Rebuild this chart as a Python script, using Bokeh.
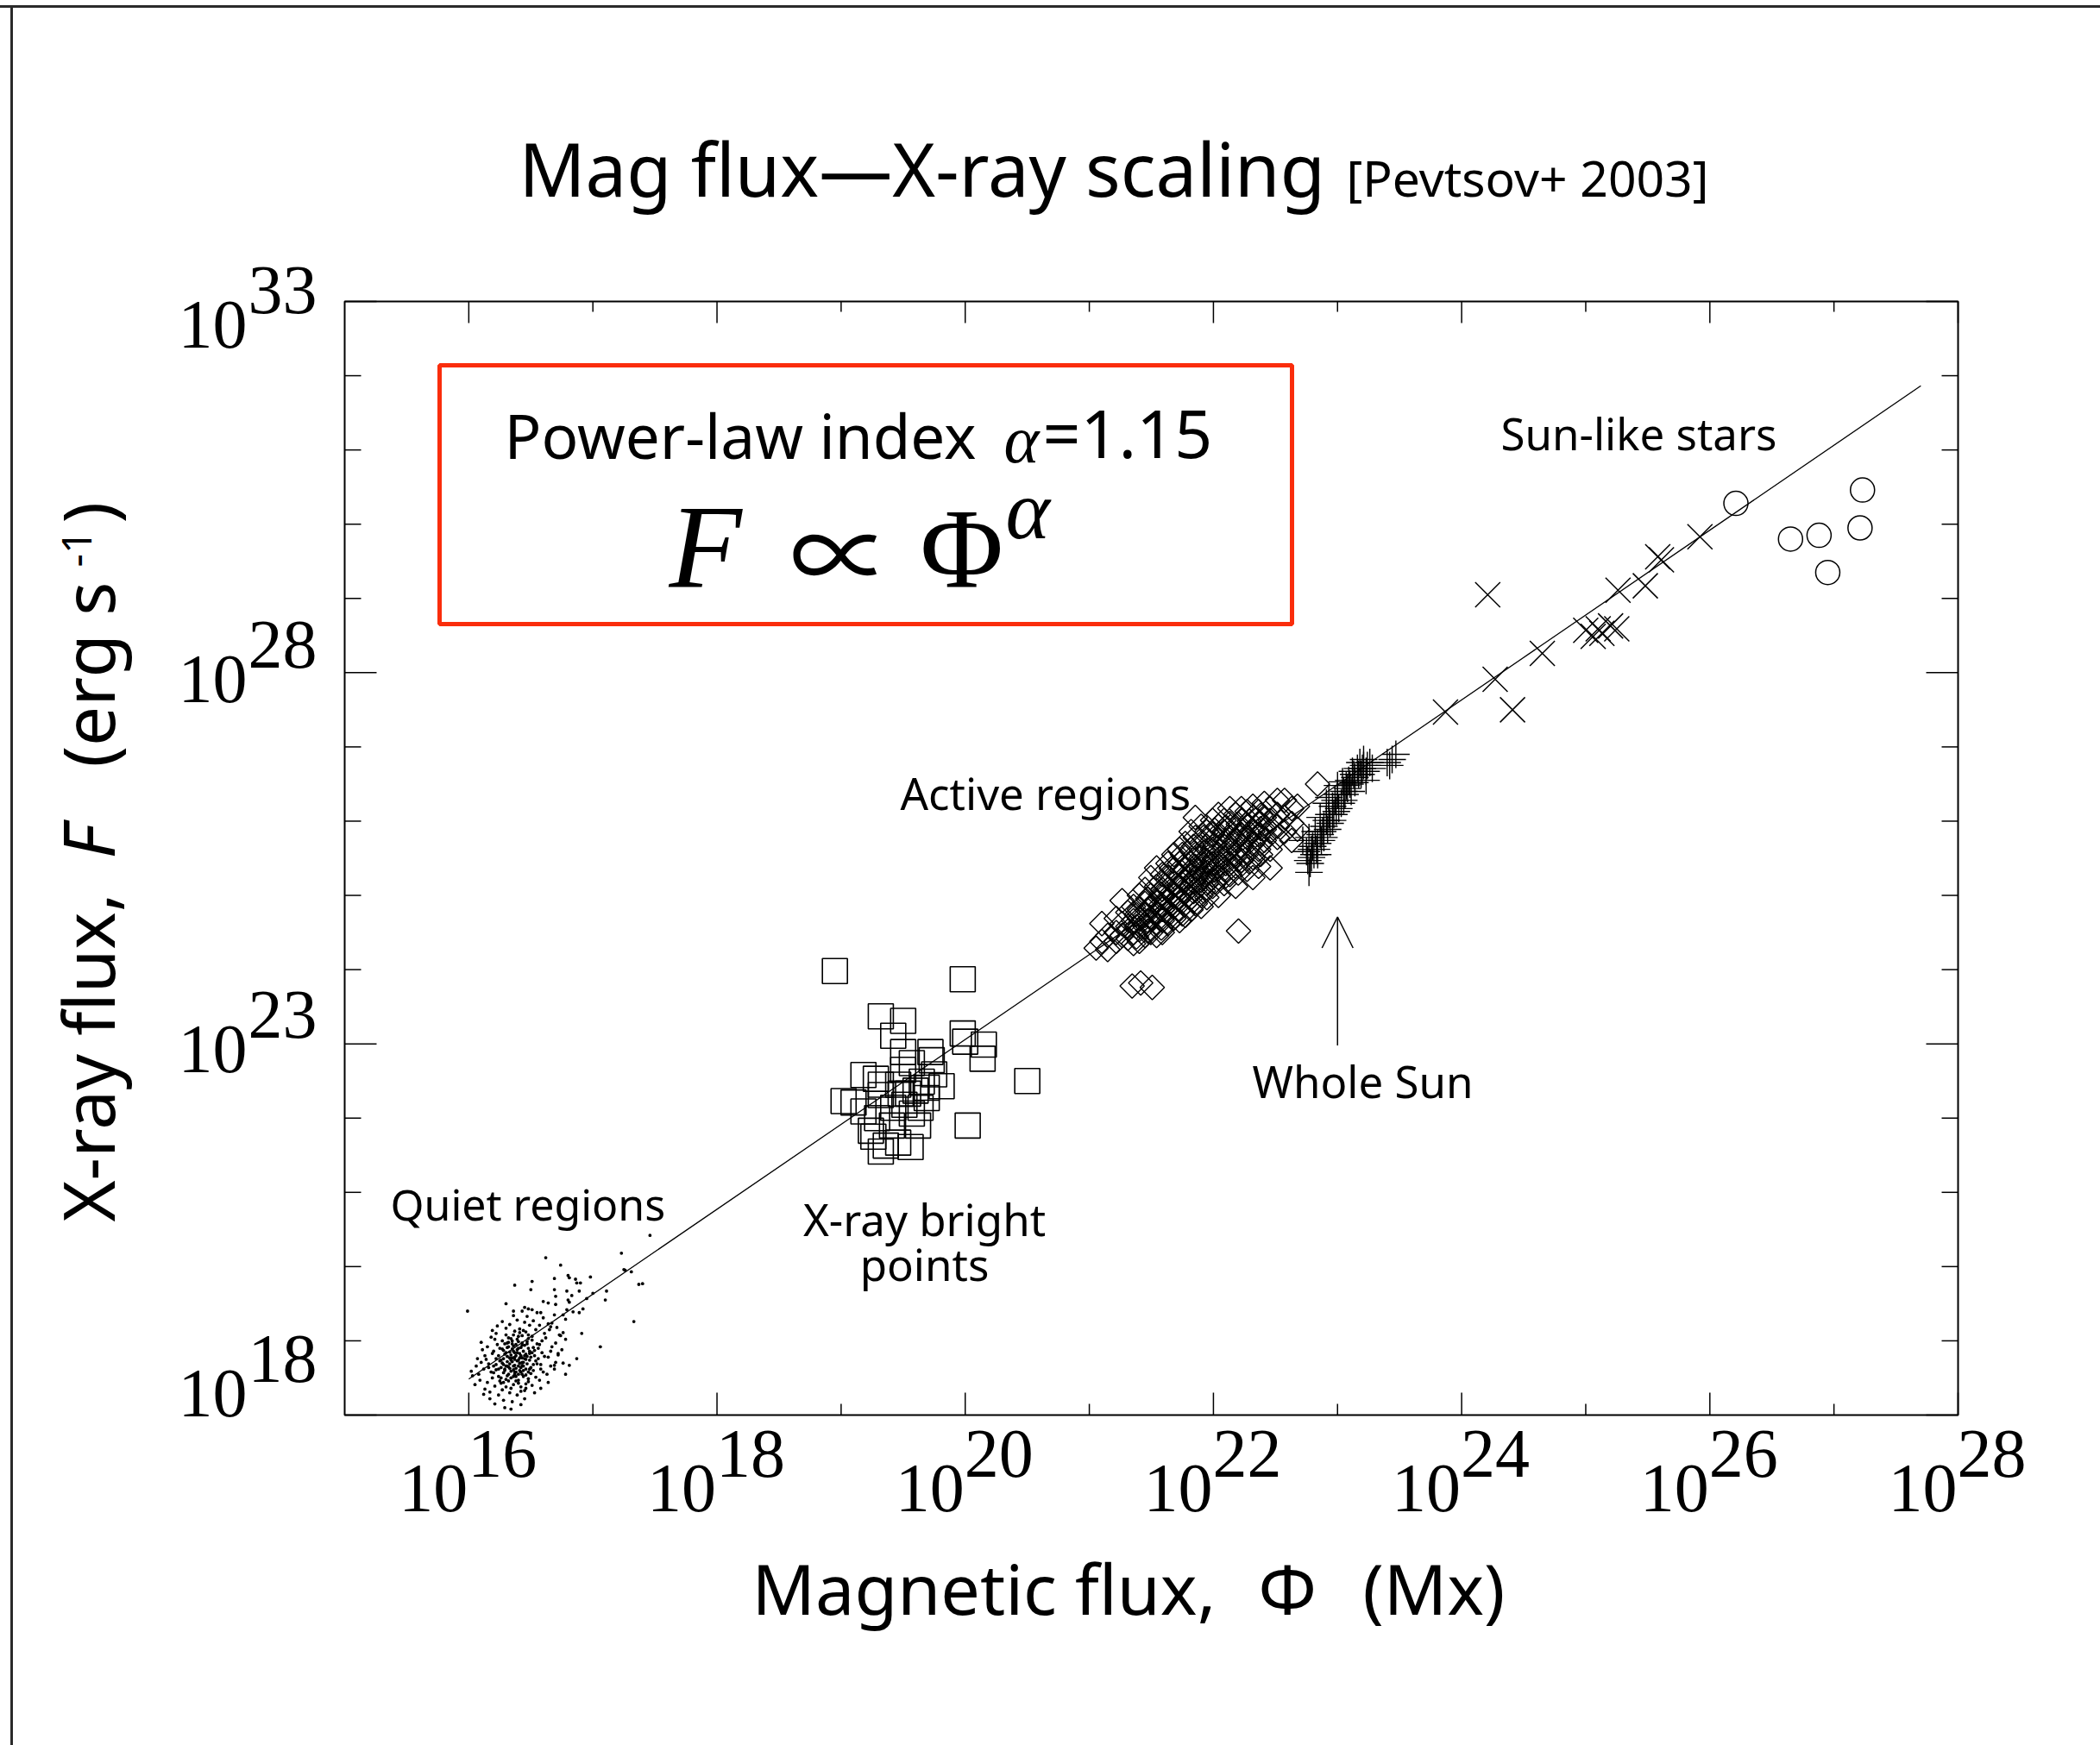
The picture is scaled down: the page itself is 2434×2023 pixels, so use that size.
import math
from bokeh.plotting import figure
from bokeh.models import Label, Arrow, OpenHead
from bokeh.embed import file_html
from bokeh.resources import INLINE

# ---------------- data (log10 values) ----------------
# Quiet regions: isolated dots
quiet_out_phi = [17.46, 17.23, 16.62, 16.74, 16.51, 16.37, 16.80, 16.81, 16.98, 16.69, 16.86, 16.87, 16.90,
                 17.25, 17.26, 17.31, 17.37, 17.40, 16.50, 16.69, 16.79, 16.89, 17.00, 17.11, 16.83, 16.70,
                 16.30, 16.60, 16.64, 16.70, 16.80, 16.81, 17.10, 16.95, 15.99, 16.45, 16.48, 16.51, 16.36,
                 16.58, 16.79, 16.84, 16.89, 16.92, 16.76, 16.69, 16.78, 17.33, 16.91, 17.06, 16.87, 16.81,
                 16.78, 16.69, 16.72, 16.76, 16.74, 16.66, 16.64]
quiet_out_f = [20.42, 20.18, 20.12, 20.02, 19.80, 19.75, 19.88, 19.85, 19.86, 19.84, 19.83, 19.78, 19.78,
               19.96, 19.95, 19.93, 19.76, 19.77, 19.69, 19.69, 19.67, 19.67, 19.64, 19.67, 19.61, 19.60,
               19.50, 19.53, 19.51, 19.49, 19.55, 19.52, 19.55, 19.57, 19.40, 19.45, 19.43, 19.42, 19.40,
               19.38, 19.42, 19.39, 19.38, 19.43, 19.35, 19.35, 19.29, 19.26, 19.10, 18.92, 18.76, 18.67,
               18.55, 18.67, 18.83, 19.11, 19.07, 19.19, 19.23]
# Quiet regions: dense core, (log Phi, log F) pairs
quiet_core = [
    (16.03, 18.53), (16.06, 18.66), (16.05, 18.41), (16.07, 18.76), (16.02, 18.59),
    (16.09, 18.47), (16.12, 18.62), (16.10, 18.71), (16.13, 18.35), (16.11, 18.88), (16.08, 18.55),
    (16.13, 18.80), (16.12, 18.28), (16.10, 18.98),
    (16.15, 18.44), (16.18, 18.58), (16.16, 18.69), (16.19, 18.83), (16.17, 18.31), (16.15, 18.92),
    (16.19, 18.50), (16.14, 18.75), (16.18, 19.05), (16.17, 18.22), (16.16, 18.64), (16.19, 19.14),
    (16.21, 18.39), (16.24, 18.52), (16.22, 18.61), (16.25, 18.73), (16.20, 18.86), (16.23, 18.95),
    (16.24, 18.27), (16.21, 19.02), (16.25, 18.46), (16.22, 18.68), (16.24, 18.80), (16.23, 19.20),
    (16.21, 18.15), (16.20, 18.57), (16.25, 18.90), (16.22, 19.10),
    (16.27, 18.34), (16.30, 18.48), (16.28, 18.57), (16.31, 18.66), (16.26, 18.74), (16.29, 18.82),
    (16.31, 18.91), (16.27, 19.00), (16.30, 19.08), (16.28, 18.20), (16.26, 18.43), (16.29, 18.62),
    (16.31, 18.79), (16.28, 18.87), (16.30, 19.17), (16.27, 19.26), (16.29, 18.10), (16.31, 18.53),
    (16.27, 18.70), (16.29, 18.96),
    (16.33, 18.30), (16.36, 18.41), (16.34, 18.50), (16.37, 18.58), (16.32, 18.65), (16.35, 18.72),
    (16.37, 18.78), (16.33, 18.85), (16.36, 18.93), (16.34, 19.03), (16.37, 19.13), (16.35, 18.18),
    (16.32, 18.46), (16.36, 18.61), (16.33, 18.69), (16.37, 18.75), (16.34, 18.81), (16.35, 18.89),
    (16.33, 19.22), (16.36, 19.34), (16.34, 18.08), (16.37, 18.55), (16.32, 18.98),
    (16.39, 18.27), (16.42, 18.38), (16.40, 18.47), (16.43, 18.55), (16.38, 18.63), (16.41, 18.70),
    (16.43, 18.77), (16.39, 18.84), (16.42, 18.91), (16.40, 18.99), (16.43, 19.07), (16.41, 19.16),
    (16.39, 19.28), (16.42, 18.14), (16.38, 18.52), (16.41, 18.60), (16.43, 18.67), (16.40, 18.74),
    (16.42, 18.80), (16.39, 18.88), (16.41, 19.11), (16.43, 19.40), (16.40, 18.43), (16.38, 18.95),
    (16.45, 18.33), (16.48, 18.45), (16.46, 18.54), (16.49, 18.62), (16.44, 18.71), (16.47, 18.79),
    (16.49, 18.86), (16.45, 18.94), (16.48, 19.03), (16.46, 19.12), (16.49, 19.21), (16.47, 19.33),
    (16.45, 18.22), (16.48, 18.58), (16.44, 18.66), (16.46, 18.75), (16.49, 18.83), (16.47, 18.99),
    (16.45, 19.25), (16.48, 18.49),
    (16.51, 18.40), (16.54, 18.51), (16.52, 18.60), (16.55, 18.69), (16.50, 18.78), (16.53, 18.87),
    (16.55, 18.96), (16.51, 19.06), (16.54, 19.15), (16.52, 19.27), (16.55, 19.38), (16.53, 18.30),
    (16.50, 18.64), (16.54, 18.73), (16.52, 18.91), (16.51, 19.01),
    (16.57, 18.47), (16.60, 18.58), (16.58, 18.68), (16.61, 18.79), (16.56, 18.90), (16.59, 19.00),
    (16.61, 19.10), (16.57, 19.21), (16.60, 19.31), (16.58, 18.36), (16.59, 18.84), (16.57, 18.95),
    (16.63, 18.55), (16.66, 18.66), (16.64, 18.78), (16.67, 18.92), (16.62, 19.04), (16.65, 19.15),
    (16.67, 19.24), (16.64, 18.44), (16.66, 18.86),
    (16.69, 18.62), (16.72, 18.81), (16.70, 18.97), (16.73, 19.08), (16.71, 19.18), (16.70, 18.71),
    (16.75, 18.88), (16.78, 19.02), (16.76, 18.70),
    (16.29, 18.60), (16.31, 18.72), (16.33, 18.63), (16.35, 18.77), (16.37, 18.67), (16.39, 18.73),
    (16.41, 18.83), (16.43, 18.71), (16.45, 18.80), (16.47, 18.69), (16.30, 18.84), (16.32, 18.92),
    (16.34, 18.74), (16.36, 18.86), (16.38, 18.80), (16.40, 18.90), (16.42, 18.64), (16.44, 18.86),
    (16.46, 18.62), (16.48, 18.90), (16.28, 18.76), (16.30, 18.66), (16.32, 18.55), (16.34, 18.59),
    (16.36, 18.66), (16.38, 18.58), (16.40, 18.66), (16.42, 18.58), (16.44, 18.60), (16.46, 18.82),
    (16.31, 18.97), (16.35, 19.00), (16.39, 19.02), (16.43, 18.97), (16.47, 18.96), (16.33, 18.77),
    (16.37, 18.84), (16.41, 18.77), (16.45, 18.76), (16.49, 18.74), (16.26, 18.64), (16.28, 18.68),
    (16.36, 18.52), (16.40, 18.55), (16.44, 18.52), (16.27, 18.89), (16.35, 18.96), (16.43, 18.94),
    (16.51, 18.84), (16.53, 18.80), (16.24, 18.62), (16.22, 18.76), (16.20, 18.66), (16.38, 18.46),
    (16.46, 18.42), (16.50, 18.56), (16.52, 18.68), (16.56, 18.76), (16.58, 18.62), (16.40, 19.06),
    (16.36, 19.08), (16.32, 19.04), (16.44, 19.14), (16.48, 19.08), (16.30, 18.38), (16.34, 18.36),
    (16.26, 18.50), (16.42, 18.32), (16.28, 18.44), (16.46, 18.36),
]

# X-ray bright points (squares)
xbp_phi = [18.95, 19.98, 19.32, 19.50, 19.42, 19.98, 20.00, 20.15, 20.14, 20.50, 20.02, 19.50, 19.72, 19.73,
           19.18, 19.28, 19.75, 19.81, 19.02, 19.10, 19.18, 19.57, 19.50, 19.46, 19.65, 19.60, 19.69, 19.32,
           19.26, 19.36, 19.56, 19.46, 19.42, 19.51, 19.57, 19.41, 19.29, 19.24, 19.62, 19.32, 19.69, 19.32,
           19.54, 19.48, 19.64]
xbp_f = [23.98, 23.87, 23.37, 23.31, 23.11, 23.14, 23.03, 22.99, 22.80, 22.50, 21.90, 22.89, 22.89, 22.78,
         22.58, 22.53, 22.59, 22.43, 22.23, 22.21, 22.09, 22.74, 22.65, 22.45, 22.49, 22.37, 22.27, 22.31,
         21.75, 21.63, 21.61, 21.67, 22.14, 22.18, 22.06, 21.90, 22.00, 21.83, 21.90, 21.55, 22.41, 22.45,
         22.33, 22.33, 22.14]

# Active regions (diamonds): columns of (log Phi, [log F, ...])
ar_cols = [
    (21.055, [24.29]),
    (21.101, [24.62, 24.38]),
    (21.148, [24.46, 24.27]),
    (21.217, [24.69, 24.50, 24.38]),
    (21.264, [24.93, 24.62, 24.46]),
    (21.310, [24.77, 24.58, 24.42]),
    (21.356, [24.85, 24.66, 24.50, 24.35]),
    (21.380, [24.44, 24.58, 24.74]),
    (21.403, [25.00, 24.81, 24.69, 24.54, 24.38]),
    (21.449, [25.08, 24.89, 24.73, 24.58, 24.46]),
    (21.470, [24.52, 24.66, 24.80, 24.95]),
    (21.495, [25.24, 25.00, 24.85, 24.69, 24.50]),
    (21.542, [25.37, 25.12, 24.93, 24.77, 24.62, 24.46]),
    (21.580, [24.56, 24.72, 24.88, 25.02, 25.18]),
    (21.588, [25.28, 25.08, 24.97, 24.81, 24.66, 24.50]),
    (21.634, [25.43, 25.24, 25.08, 24.93, 24.77, 24.62]),
    (21.660, [24.72, 24.88, 25.03, 25.20, 25.36]),
    (21.681, [25.55, 25.35, 25.16, 25.00, 24.85, 24.69]),
    (21.727, [25.62, 25.43, 25.28, 25.12, 24.97, 24.81, 24.66]),
    (21.750, [24.75, 24.92, 25.06, 25.22, 25.38, 25.55]),
    (21.773, [25.70, 25.51, 25.35, 25.20, 25.04, 24.89, 24.73]),
    (21.820, [25.86, 25.62, 25.43, 25.28, 25.12, 24.97, 24.81]),
    (21.840, [24.93, 25.05, 25.18, 25.33, 25.48, 25.66]),
    (21.854, [26.05, 25.78, 25.55, 25.39, 25.24, 25.08, 24.89]),
    (21.901, [25.93, 25.70, 25.51, 25.35, 25.20, 25.00, 24.85]),
    (21.920, [25.06, 25.25, 25.41, 25.58, 25.78]),
    (21.947, [25.86, 25.66, 25.47, 25.31, 25.16, 24.97]),
    (21.993, [26.01, 25.82, 25.62, 25.43, 25.28, 25.12]),
    (22.010, [25.18, 25.34, 25.50, 25.68, 25.88]),
    (22.040, [26.09, 25.93, 25.74, 25.55, 25.39, 25.24, 25.00]),
    (22.086, [26.01, 25.86, 25.66, 25.51, 25.35, 25.16]),
    (22.100, [25.26, 25.43, 25.58, 25.74, 25.92]),
    (22.132, [26.17, 25.97, 25.78, 25.62, 25.43, 25.28]),
    (22.179, [26.09, 25.89, 25.74, 25.55, 25.39, 25.12]),
    (22.200, [25.30, 25.48, 25.62, 25.80, 25.96]),
    (22.225, [26.17, 26.01, 25.82, 25.66, 25.47]),
    (22.271, [26.13, 25.93, 25.78, 25.59, 25.35]),
    (22.290, [25.45, 25.66, 25.84, 26.00]),
    (22.318, [26.20, 26.05, 25.86, 25.70, 25.51, 25.24]),
    (22.364, [26.13, 25.97, 25.82, 25.62, 25.39]),
    (22.380, [25.55, 25.70, 25.90, 26.08]),
    (22.410, [26.24, 26.05, 25.89, 25.74]),
    (22.457, [26.17, 26.01, 25.86, 25.62, 25.37]),
    (22.515, [26.28, 26.09, 25.93, 25.78]),
    (22.573, [26.28, 26.05, 25.86]),
    (22.631, [26.17, 25.97, 25.74]),
    (22.677, [26.20, 25.89]),
    (22.202, [24.52]),
    (22.839, [26.50]),
    (21.345, [23.78]),
    (21.414, [23.82]),
    (21.507, [23.76]),
]

# Whole Sun (plus signs)
sun_phi = [22.77, 22.76, 22.75, 22.79, 22.84, 22.77, 22.82, 22.86, 22.89, 22.91, 22.86, 22.93, 22.96, 22.91,
           22.98, 23.00, 23.05, 23.00, 23.07, 23.09, 23.14, 23.12, 23.16, 23.21, 23.19, 23.23, 23.14, 23.11,
           23.05, 23.01, 22.96, 22.92, 22.89, 22.84, 22.79, 23.26, 23.21, 23.40, 23.44, 23.47, 23.42, 22.72,
           22.93, 23.04, 23.18, 23.23, 23.28, 22.80, 22.83, 22.87, 22.88, 22.94, 22.97, 22.99, 23.03, 23.06,
           23.08, 23.10, 23.13, 23.17, 23.20, 23.24, 22.78, 22.81]
sun_f = [25.31, 25.47, 25.59, 25.62, 25.70, 25.78, 25.86, 25.82, 25.93, 26.01, 26.05, 26.09, 26.20, 26.24,
         26.28, 26.36, 26.40, 26.48, 26.48, 26.55, 26.59, 26.67, 26.71, 26.75, 26.63, 26.67, 26.52, 26.40,
         26.28, 26.17, 26.01, 25.89, 25.78, 25.55, 25.51, 26.79, 26.83, 26.79, 26.83, 26.90, 26.75, 25.74,
         26.32, 26.53, 26.79, 26.55, 26.71, 25.66, 25.62, 25.74, 25.86, 25.97, 26.09, 26.13, 26.24, 26.36,
         26.44, 26.50, 26.63, 26.63, 26.71, 26.75, 25.43, 25.55]

# Sun-like stars: crosses and circles
cross_phi = [24.21, 23.87, 24.27, 24.41, 24.65, 25.00, 25.10, 25.13, 25.20, 25.25, 25.06, 25.26, 25.48, 25.61,
             25.58, 25.92]
cross_f = [29.05, 27.47, 27.91, 27.50, 28.26, 28.57, 28.59, 28.53, 28.63, 28.59, 28.49, 29.11, 29.17, 29.52,
           29.56, 29.83]
star_phi = [26.21, 26.65, 26.88, 26.95, 27.23, 27.21]
star_f = [30.28, 29.80, 29.85, 29.35, 30.46, 29.95]

# Power-law fit line (alpha = 1.15) end points
fit_phi = [16.0, 27.70]
fit_f = [18.485, 31.864]

# Whole Sun arrow (at Phi = 1e23)
arrow_phi = 23.0
arrow_f = [22.98, 24.71]

# Axes (decades)
x_lim = [15.0, 28.0]
y_lim = [18.0, 33.0]
x_major_exp = [16, 18, 20, 22, 24, 26, 28]
x_minor_exp = [17, 19, 21, 23, 25, 27]
y_major_exp = [18, 23, 28, 33]
y_minor_exp = [19, 20, 21, 22, 24, 25, 26, 27, 29, 30, 31, 32]

# ---------------- layout (pixels of the page) ----------------
W, H = 2434, 2023
FL, FR, FT, FB = 399, 2269, 349, 1640          # plot box edges
KX = (x_lim[1] - x_lim[0]) / (FR - FL)          # decades per pixel
KY = (y_lim[1] - y_lim[0]) / (FB - FT)


def X(px):
    return 10.0 ** (x_lim[0] + (px - FL) * KX)


def Y(py):
    return 10.0 ** (y_lim[1] - (py - FT) * KY)


def PX(e):
    return FL + (e - x_lim[0]) / KX


def p10(a):
    return [10.0 ** float(v) for v in a]


p = figure(width=W, height=H, x_axis_type="log", y_axis_type="log",
           x_range=(X(0), X(W)), y_range=(Y(H), Y(0)),
           x_axis_location=None, y_axis_location=None,
           output_backend="svg", toolbar_location=None, title=None, min_border=0)
p.grid.visible = False
p.outline_line_color = None
p.background_fill_color = None
p.border_fill_color = None
p.styles = {"background": "linear-gradient(#2a2a2a,#2a2a2a) 0px 6px / 100% 3px no-repeat, "
                          "linear-gradient(#2a2a2a,#2a2a2a) 12px 6px / 3px 100% no-repeat, #ffffff"}

# plot box
xl, xr = 10.0 ** x_lim[0], 10.0 ** x_lim[1]
yb, yt = 10.0 ** y_lim[0], 10.0 ** y_lim[1]
p.quad(left=[xl], right=[xr], bottom=[yb], top=[yt], fill_color=None, line_color="black", line_width=2)

# ticks on all four sides, pointing inward
TK = dict(line_color="black", line_width=1.5)
xM, xm = p10(x_major_exp), p10(x_minor_exp)
yM, ym = p10(y_major_exp), p10(y_minor_exp)
p.segment(x0=xM, y0=[yb] * len(xM), x1=xM, y1=[Y(FB - 26)] * len(xM), **TK)
p.segment(x0=xm, y0=[yb] * len(xm), x1=xm, y1=[Y(FB - 13)] * len(xm), **TK)
p.segment(x0=xM, y0=[yt] * len(xM), x1=xM, y1=[Y(FT + 25)] * len(xM), **TK)
p.segment(x0=xm, y0=[yt] * len(xm), x1=xm, y1=[Y(FT + 12)] * len(xm), **TK)
p.segment(x0=[xl] * len(yM), y0=yM, x1=[X(FL + 37)] * len(yM), y1=yM, **TK)
p.segment(x0=[xl] * len(ym), y0=ym, x1=[X(FL + 19)] * len(ym), y1=ym, **TK)
p.segment(x0=[xr] * len(yM), y0=yM, x1=[X(FR - 37)] * len(yM), y1=yM, **TK)
p.segment(x0=[xr] * len(ym), y0=ym, x1=[X(FR - 19)] * len(ym), y1=ym, **TK)

# ---------------- data glyphs ----------------
p.line(p10(fit_phi), p10(fit_f), line_color="black", line_width=1.3)

q_phi = list(quiet_out_phi) + [a for a, b in quiet_core]
q_f = list(quiet_out_f) + [b for a, b in quiet_core]
p.scatter(p10(q_phi), p10(q_f), marker="circle", size=3.8, fill_color="black", line_color=None)

p.scatter(p10(xbp_phi), p10(xbp_f), marker="square", size=29, fill_color=None,
          line_color="black", line_width=1.6)

ar_phi, ar_f = [], []
for ph, fs in ar_cols:
    ar_phi += [ph] * len(fs)
    ar_f += fs
p.scatter(p10(ar_phi), p10(ar_f), marker="square", angle=math.pi / 4, size=20, fill_color=None,
          line_color="black", line_width=1.4)

p.scatter(p10(sun_phi), p10(sun_f), marker="cross", size=32, line_color="black", line_width=1.4)
p.scatter(p10(cross_phi), p10(cross_f), marker="x", size=41, line_color="black", line_width=1.5)
p.scatter(p10(star_phi), p10(star_f), marker="circle", size=28, fill_color=None,
          line_color="black", line_width=1.5)

p.add_layout(Arrow(end=OpenHead(size=36, line_width=1.5, line_color="black"),
                   x_start=10.0 ** arrow_phi, y_start=10.0 ** arrow_f[0],
                   x_end=10.0 ** arrow_phi, y_end=10.0 ** arrow_f[1],
                   line_width=1.5, line_color="black"))

# red box
p.quad(left=[X(509)], right=[X(1497)], top=[Y(423)], bottom=[Y(723)],
       fill_color=None, line_color="#fa2d0c", line_width=5)

# ---------------- texts ----------------
SANS = "Noto Sans"
SERIF = "Liberation Serif"
CJK = "Noto Sans CJK JP"
# observed drop of the alphabetic baseline below the anchor, in em
DROP = {SANS: 0.40, SERIF: 0.30, CJK: 0.39}


def txt(text, px, py, size, font=SANS, style="normal", align="left", angle=0.0):
    d = DROP[font] * size
    if angle == 0.0:
        py = py - d
    else:
        px = px - d
    p.add_layout(Label(x=X(px), y=Y(py), text=text, text_font=font, text_font_size=f"{size}px",
                       text_font_style=style, text_align=align, text_baseline="alphabetic",
                       angle=angle, text_color="black"))


# title
txt("Mag flux\u2014X-ray scaling", 601, 228, 85)
txt("[Pevtsov+ 2003]", 1560, 228, 57)

# box
txt("Power-law index", 584, 532, 71)
txt("\u03b1", 1163, 532, 78, font=SERIF, style="italic")
txt("=1.15", 1208, 532, 77)
txt("F", 775, 675, 138, font=SERIF, style="italic")
txt("\u221d", 915, 682, 118, font=CJK)
txt("\u03a6", 1066, 675, 132, font=SERIF)
txt("\u03b1", 1165, 620, 98, font=SERIF, style="italic")

# annotations
txt("Sun-like stars", 1739, 522, 51)
txt("Active regions", 1043, 939, 51)
txt("Whole Sun", 1451, 1273, 51)
txt("Quiet regions", 452, 1415, 50)
txt("X-ray bright", 1071, 1433, 51, align="center")
txt("points", 1071, 1485, 51, align="center")

# axis titles
txt("Magnetic flux,", 871, 1872, 81)
txt("\u03a6", 1458, 1872, 80)
txt("(Mx)", 1579, 1872, 81)

rot = math.pi / 2
txt("X-ray flux,", 133, 1416, 82, angle=rot)
txt("F", 133, 995, 82, style="italic", angle=rot)
txt("(erg s", 133, 889, 82, angle=rot)
txt("-1", 108, 657, 48, angle=rot)
txt(")", 133, 606, 82, angle=rot)

# tick labels: "10" with a raised exponent
for e in x_major_exp:
    tx = PX(e)
    txt("10", tx - 1, 1749, 80, font=SERIF, align="right")
    txt(str(e), tx - 1, 1709, 80, font=SERIF)

y_label_baseline = {18: 1639, 23: 1240, 28: 811, 33: 400}
for e in y_major_exp:
    b = y_label_baseline[e]
    txt("10", 286, b, 80, font=SERIF, align="right")
    txt(str(e), 287, b - 40, 80, font=SERIF)

open("out.html", "w").write(file_html(p, INLINE))
